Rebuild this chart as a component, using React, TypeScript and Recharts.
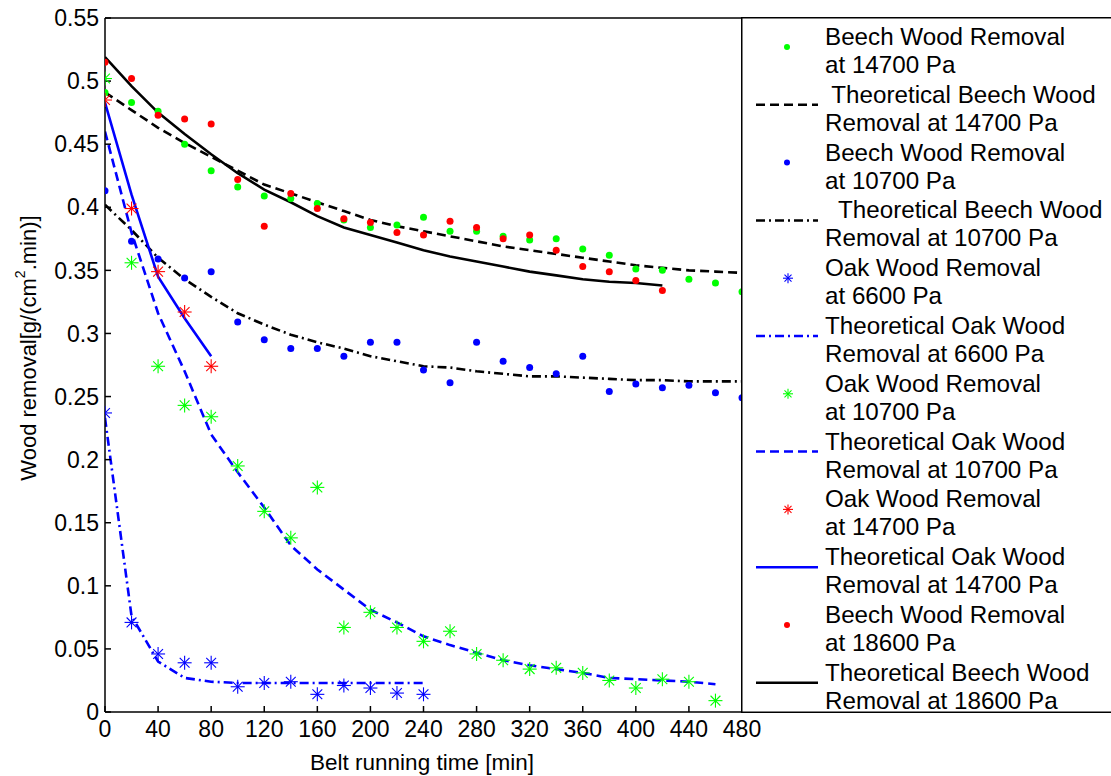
import { ComposedChart, Legend, Line, Scatter, XAxis, YAxis } from "recharts"

// belt running time [min], sampled every 20 min
const time = [
  0, 20, 40, 60, 80, 100, 120, 140, 160, 180, 200, 220, 240, 260, 280, 300,
  320, 340, 360, 380, 400, 420, 440, 460, 480,
]

const xTicks = [0, 40, 80, 120, 160, 200, 240, 280, 320, 360, 400, 440, 480]
const yTicks = [0, 0.05, 0.1, 0.15, 0.2, 0.25, 0.3, 0.35, 0.4, 0.45, 0.5, 0.55]

// measured removal [g/(cm2.min)]
const beech14700 = [
  0.491, 0.483, 0.476, 0.45, 0.429, 0.416, 0.409, 0.407, 0.403, 0.39, 0.384,
  0.386, 0.392, 0.381, 0.381, 0.377, 0.374, 0.375, 0.367, 0.362, 0.351, 0.35,
  0.343, 0.34, 0.333,
]
const beech10700 = [
  0.413, 0.373, 0.359, 0.344, 0.349, 0.309, 0.295, 0.288, 0.288, 0.282, 0.293,
  0.293, 0.271, 0.261, 0.293, 0.278, 0.273, 0.268, 0.282, 0.254, 0.26, 0.257,
  0.259, 0.253, 0.249,
]
const beech18600 = [
  0.515, 0.502, 0.473, 0.47, 0.466, 0.422, 0.385, 0.411, 0.399, 0.391, 0.388,
  0.38, 0.378, 0.389, 0.384, 0.375, 0.378, 0.366, 0.353, 0.349, 0.342, 0.334,
]
const oak6600 = [
  0.237, 0.071, 0.046, 0.039, 0.039, 0.02, 0.023, 0.024, 0.014, 0.021, 0.019,
  0.015, 0.014,
]
const oak10700 = [
  0.502, 0.356, 0.274, 0.243, 0.234, 0.195, 0.159, 0.138, 0.178, 0.067, 0.079,
  0.067, 0.056, 0.064, 0.046, 0.041, 0.034, 0.035, 0.031, 0.025, 0.019, 0.026,
  0.024, 0.009,
]
const oak14700 = [0.485, 0.399, 0.349, 0.317, 0.274]

// theoretical curves
const theoBeech14700 = [
  0.491, 0.477, 0.463, 0.451, 0.44, 0.429, 0.418, 0.411, 0.404, 0.397, 0.39,
  0.385, 0.381, 0.377, 0.373, 0.369, 0.366, 0.363, 0.36, 0.357, 0.354, 0.352,
  0.35, 0.349, 0.348,
]
const theoBeech10700 = [
  0.402, 0.382, 0.36, 0.343, 0.329, 0.316, 0.307, 0.299, 0.293, 0.288, 0.282,
  0.278, 0.274, 0.273, 0.27, 0.268, 0.266, 0.266, 0.265, 0.264, 0.263, 0.263,
  0.262, 0.262, 0.262,
]
const theoBeech18600 = [
  0.519, 0.496, 0.475, 0.458, 0.442, 0.427, 0.414, 0.404, 0.393, 0.384, 0.378,
  0.372, 0.366, 0.361, 0.357, 0.353, 0.349, 0.346, 0.343, 0.341, 0.34, 0.338,
]
const theoOak6600 = [
  0.233, 0.076, 0.04, 0.027, 0.024, 0.023, 0.023, 0.023, 0.023, 0.023, 0.023,
  0.023, 0.023,
]
const theoOak10700 = [
  0.46, 0.38, 0.316, 0.27, 0.22, 0.19, 0.162, 0.132, 0.113, 0.097, 0.081,
  0.071, 0.06, 0.053, 0.047, 0.041, 0.037, 0.034, 0.031, 0.027, 0.026, 0.025,
  0.024, 0.022,
]
const theoOak14700 = [0.483, 0.41, 0.345, 0.312, 0.282]

const GREEN = "#00ff00"
const BLUE = "#0000ff"
const RED = "#ff0000"
const BLACK = "#000000"
const FONT = "'Liberation Sans', Arial, Helvetica, sans-serif"

const DASH = "9 5"
const DASH_DOT = "9 4 2 4"

const pts = (values: number[]) => values.map((v, i) => ({ t: time[i], v }))

function Star({ cx, cy, color, r = 7 }: { cx: number; cy: number; color: string; r?: number }) {
  const d = r * 0.7
  return (
    <g stroke={color} strokeWidth={1.1}>
      <line x1={cx - r} y1={cy} x2={cx + r} y2={cy} />
      <line x1={cx} y1={cy - r} x2={cx} y2={cy + r} />
      <line x1={cx - d} y1={cy - d} x2={cx + d} y2={cy + d} />
      <line x1={cx - d} y1={cy + d} x2={cx + d} y2={cy - d} />
    </g>
  )
}

const dotShape = (color: string) => (p: any) => (
  <circle cx={p.cx} cy={p.cy} r={3.5} fill={color} />
)
const starShape = (color: string) => (p: any) => <Star cx={p.cx} cy={p.cy} color={color} />

type Entry = {
  lines: [string, string]
  kind: "dot" | "star" | "line"
  color: string
  dash?: string
}

const legendEntries: Entry[] = [
  { lines: ["Beech Wood Removal", "at 14700 Pa"], kind: "dot", color: GREEN },
  { lines: [" Theoretical Beech Wood", "Removal at 14700 Pa"], kind: "line", color: BLACK, dash: DASH },
  { lines: ["Beech Wood Removal", "at 10700 Pa"], kind: "dot", color: BLUE },
  { lines: ["  Theoretical Beech Wood", "Removal at 10700 Pa"], kind: "line", color: BLACK, dash: DASH_DOT },
  { lines: ["Oak Wood Removal", "at 6600 Pa"], kind: "star", color: BLUE },
  { lines: ["Theoretical Oak Wood", "Removal at 6600 Pa"], kind: "line", color: BLUE, dash: DASH_DOT },
  { lines: ["Oak Wood Removal", "at 10700 Pa"], kind: "star", color: GREEN },
  { lines: ["Theoretical Oak Wood", "Removal at 10700 Pa"], kind: "line", color: BLUE, dash: DASH },
  { lines: ["Oak Wood Removal", "at 14700 Pa"], kind: "star", color: RED },
  { lines: ["Theoretical Oak Wood", "Removal at 14700 Pa"], kind: "line", color: BLUE },
  { lines: ["Beech Wood Removal", "at 18600 Pa"], kind: "dot", color: RED },
  { lines: ["Theoretical Beech Wood", "Removal at 18600 Pa"], kind: "line", color: BLACK },
]

function LegendBox() {
  const pitch = 57.8
  return (
    <svg width={380} height={696} style={{ display: "block" }}>
      <rect x={0.75} y={0.75} width={400} height={694.5} fill="#fff" stroke={BLACK} strokeWidth={1.5} />
      {legendEntries.map((e, i) => {
        const top = i * pitch
        const sy = top + 30
        return (
          <g key={i}>
            {e.kind === "dot" && <circle cx={46} cy={sy} r={3} fill={e.color} />}
            {e.kind === "star" && <Star cx={47} cy={sy} color={e.color} r={5} />}
            {e.kind === "line" && (
              <line x1={15} y1={sy} x2={77} y2={sy} stroke={e.color} strokeWidth={2.5} strokeDasharray={e.dash} />
            )}
            <text x={84} y={top + 28} fontSize={24.2} fontFamily={FONT} fill={BLACK} style={{ whiteSpace: "pre" }}>
              {e.lines[0]}
            </text>
            <text x={84} y={top + 56} fontSize={24.2} fontFamily={FONT} fill={BLACK} style={{ whiteSpace: "pre" }}>
              {e.lines[1]}
            </text>
          </g>
        )
      })}
    </svg>
  )
}

function YTitle() {
  const x = 28
  const y = 348
  return (
    <text
      x={x}
      y={y}
      transform={`rotate(-90 ${x} ${y})`}
      textAnchor="middle"
      dominantBaseline="central"
      fontSize={22}
      fontFamily={FONT}
      fill={BLACK}
    >
      Wood removal[g/(cm
      <tspan dy={-8} fontSize={14}>2</tspan>
      <tspan dy={8}>.min)]</tspan>
    </text>
  )
}

function XTitle() {
  return (
    <text x={422} y={770} textAnchor="middle" fontSize={22.5} fontFamily={FONT} fill={BLACK}>
      Belt running time [min]
    </text>
  )
}

const axisStroke = { stroke: BLACK, strokeWidth: 1.5 }
const tickFont = { fontSize: 23, fontFamily: FONT, fill: BLACK }

export default function App() {
  return (
    <div style={{ position: "absolute", left: 0, top: 0, width: 1111, height: 776, background: "#fff" }}>
      <ComposedChart width={1111} height={776} margin={{ top: 17, right: 368, bottom: 0, left: 0 }}>
        <XAxis
          dataKey="t"
          type="number"
          domain={[0, 480]}
          ticks={xTicks}
          allowDataOverflow
          height={64}
          tickSize={-6}
          tickMargin={15}
          axisLine={axisStroke}
          tickLine={axisStroke}
          tick={tickFont}
          label={{ content: () => <XTitle /> }}
        />
        <XAxis
          xAxisId="top"
          orientation="top"
          dataKey="t"
          type="number"
          domain={[0, 480]}
          ticks={xTicks}
          height={1}
          tickSize={-6}
          axisLine={axisStroke}
          tickLine={axisStroke}
          tick={{ fill: "none", fontSize: 1 }}
        />
        <YAxis
          type="number"
          domain={[0, 0.55]}
          ticks={yTicks}
          allowDataOverflow
          width={105}
          tickSize={-6}
          tickMargin={12}
          axisLine={axisStroke}
          tickLine={axisStroke}
          tick={tickFont}
          label={{ content: () => <YTitle /> }}
        />
        <YAxis
          yAxisId="right"
          orientation="right"
          type="number"
          domain={[0, 0.55]}
          ticks={yTicks}
          width={1}
          tickSize={-6}
          axisLine={axisStroke}
          tickLine={axisStroke}
          tick={{ fill: "none", fontSize: 1 }}
        />

        <Line data={pts(theoBeech14700)} dataKey="v" type="linear" stroke={BLACK} strokeWidth={2.6} strokeDasharray={DASH} dot={false} isAnimationActive={false} />
        <Line data={pts(theoBeech10700)} dataKey="v" type="linear" stroke={BLACK} strokeWidth={2.6} strokeDasharray={DASH_DOT} dot={false} isAnimationActive={false} />
        <Line data={pts(theoBeech18600)} dataKey="v" type="linear" stroke={BLACK} strokeWidth={2.6} dot={false} isAnimationActive={false} />
        <Line data={pts(theoOak6600)} dataKey="v" type="linear" stroke={BLUE} strokeWidth={2.6} strokeDasharray={DASH_DOT} dot={false} isAnimationActive={false} />
        <Line data={pts(theoOak10700)} dataKey="v" type="linear" stroke={BLUE} strokeWidth={2.6} strokeDasharray={DASH} dot={false} isAnimationActive={false} />
        <Line data={pts(theoOak14700)} dataKey="v" type="linear" stroke={BLUE} strokeWidth={2.6} dot={false} isAnimationActive={false} />

        <Scatter data={pts(beech14700)} dataKey="v" shape={dotShape(GREEN)} isAnimationActive={false} />
        <Scatter data={pts(beech10700)} dataKey="v" shape={dotShape(BLUE)} isAnimationActive={false} />
        <Scatter data={pts(beech18600)} dataKey="v" shape={dotShape(RED)} isAnimationActive={false} />
        <Scatter data={pts(oak6600)} dataKey="v" shape={starShape(BLUE)} isAnimationActive={false} />
        <Scatter data={pts(oak10700)} dataKey="v" shape={starShape(GREEN)} isAnimationActive={false} />
        <Scatter data={pts(oak14700)} dataKey="v" shape={starShape(RED)} isAnimationActive={false} />

        <Legend
          layout="horizontal"
          verticalAlign="middle"
          align="center"
          content={() => <LegendBox />}
          wrapperStyle={{ position: "absolute", left: 741, top: 17, width: 380, height: 696, margin: 0 }}
        />
      </ComposedChart>
    </div>
  )
}
